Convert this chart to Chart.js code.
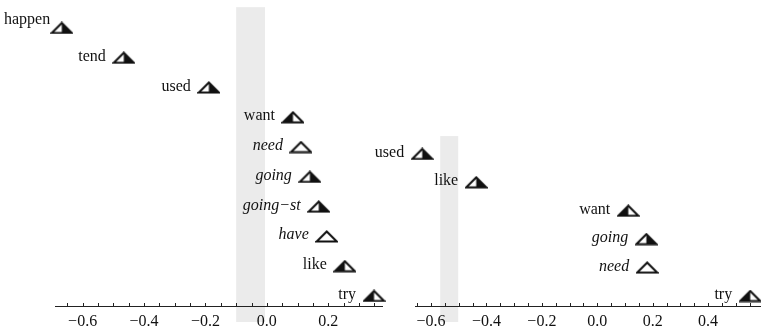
<!DOCTYPE html>
<html>
<head>
<meta charset="utf-8">
<script src="https://cdn.jsdelivr.net/npm/chart.js@4/dist/chart.umd.min.js"></script>
<style>
  html, body { margin: 0; padding: 0; background: #fff; }
  #wrap { position: relative; width: 761px; height: 335px; overflow: hidden; }
  canvas { position: absolute; top: 0; }
  #left { left: 0; }
  #right { left: 360px; }
</style>
</head>
<body>
<div id="wrap">
  <canvas id="left" width="395" height="335"></canvas>
  <canvas id="right" width="401" height="335"></canvas>
</div>
<script>
// left panel
const leftWords = ['happen', 'tend', 'used', 'want', 'need', 'going', 'going\u2212st', 'have', 'like', 'try'];
const leftValues = [-0.668, -0.466, -0.189, 0.085, 0.111, 0.140, 0.169, 0.195, 0.254, 0.349];
const leftRows = [10, 9, 8, 7, 6, 5, 4, 3, 2, 1];
const leftItalic = [false, false, false, false, true, true, true, true, false, false];
const leftBlackHalf = ['right', 'right', 'right', 'left', 'none', 'right', 'right', 'none', 'left', 'left'];
const leftBand = [-0.1, -0.006];
const leftTicks = [-0.6, -0.4, -0.2, 0.0, 0.2];

// right panel
const rightWords = ['used', 'like', 'want', 'going', 'need', 'try'];
const rightValues = [-0.632, -0.437, 0.112, 0.177, 0.180, 0.552];
const rightRows = [6, 5, 4, 3, 2, 1];
const rightItalic = [false, false, false, true, true, false];
const rightBlackHalf = ['right', 'right', 'left', 'right', 'none', 'left'];
const rightBand = [-0.567, -0.502];
const rightTicks = [-0.6, -0.4, -0.2, 0.0, 0.2, 0.4];

const FONT = '"Liberation Serif", "Times New Roman", serif';

// half filled triangle markers
function triangle(half) {
    const c = document.createElement('canvas');
    c.width = 23;
    c.height = 13;
    const g = c.getContext('2d');
    g.beginPath();
    g.moveTo(1.5, 11.5);
    g.lineTo(21.5, 11.5);
    g.lineTo(11.5, 1.5);
    g.closePath();
    g.fillStyle = '#fff';
    g.fill();
    g.fillStyle = '#111';
    if (half === 'left') {
        g.beginPath();
        g.moveTo(1.5, 11.5);
        g.lineTo(11.5, 1.5);
        g.lineTo(11.5, 11.5);
        g.closePath();
        g.fill();
    } else if (half === 'right') {
        g.beginPath();
        g.moveTo(11.5, 1.5);
        g.lineTo(21.5, 11.5);
        g.lineTo(11.5, 11.5);
        g.closePath();
        g.fill();
    }
    g.beginPath();
    g.moveTo(1.5, 11.5);
    g.lineTo(21.5, 11.5);
    g.lineTo(11.5, 1.5);
    g.closePath();
    g.strokeStyle = '#111';
    g.lineWidth = 2;
    g.stroke();
    return c;
}
const markers = {left: triangle('left'), right: triangle('right'), none: triangle('none')};

const bandPlugin = {
    id: 'band',
    beforeDraw(chart, args, opts) {
        const {ctx, scales: {x, y}} = chart;
        const x0 = x.getPixelForValue(opts.from);
        const x1 = x.getPixelForValue(opts.to);
        const top = y.getPixelForValue(opts.top);
        ctx.save();
        ctx.fillStyle = '#ebebeb';
        ctx.fillRect(x0, top, x1 - x0, chart.chartArea.bottom + 16 - top);
        ctx.restore();
    }
};

const tickPlugin = {
    id: 'upticks',
    afterDraw(chart) {
        const {ctx, scales: {x}} = chart;
        const b = chart.chartArea.bottom;
        ctx.save();
        ctx.strokeStyle = '#222';
        ctx.lineWidth = 1;
        x.ticks.forEach(t => {
            const px = Math.round(x.getPixelForValue(t.value)) + 0.5;
            ctx.beginPath();
            ctx.moveTo(px, b);
            ctx.lineTo(px, b - 3);
            ctx.stroke();
        });
        ctx.restore();
    }
};

const wordPlugin = {
    id: 'words',
    afterDatasetsDraw(chart, args, opts) {
        const ctx = chart.ctx;
        const meta = chart.getDatasetMeta(0);
        ctx.save();
        ctx.fillStyle = '#111';
        ctx.textAlign = 'left';
        ctx.textBaseline = 'alphabetic';
        meta.data.forEach((el, i) => {
            ctx.font = (opts.italic[i] ? 'italic ' : '') + '16px ' + FONT;
            const w = ctx.measureText(opts.words[i]).width;
            let left = el.x - 18 - w;
            let base = el.y + 3;
            if (left < 4) {
                // no room at the edge: tuck it up against the marker
                left = 4;
                base = el.y - 4;
            }
            ctx.fillText(opts.words[i], left, base);
        });
        ctx.restore();
    }
};

function tickLabel(majors) {
    return v => {
        const hit = majors.find(m => Math.abs(m - v) < 1e-6);
        if (hit === undefined) return '';
        return hit.toFixed(1).replace('-', '\u2212');
    };
}

function panel(id, o) {
    new Chart(document.getElementById(id), {
        type: 'scatter',
        data: {
            datasets: [{
                data: o.values.map((v, i) => ({x: v, y: o.rows[i]})),
                pointStyle: c => markers[o.half[c.dataIndex]],
                showLine: false,
                clip: false
            }]
        },
        options: {
            responsive: false,
            animation: false,
            devicePixelRatio: 1,
            layout: {autoPadding: false, padding: {left: o.padLeft, right: o.padRight, top: 0, bottom: 0}},
            plugins: {
                legend: {display: false},
                tooltip: {enabled: false},
                band: {from: o.band[0], to: o.band[1], top: o.bandTop},
                words: {words: o.words, italic: o.italic}
            },
            scales: {
                x: {
                    type: 'linear',
                    min: o.min,
                    max: o.max,
                    afterFit: s => { s.height = 29; },
                    grid: {display: true, drawOnChartArea: false, drawTicks: false},
                    border: {display: true, color: '#222', width: 1},
                    ticks: {
                        stepSize: 0.05,
                        includeBounds: false,
                        autoSkip: false,
                        maxRotation: 0,
                        padding: 6,
                        color: '#111',
                        font: {family: FONT, size: 16},
                        callback: tickLabel(o.ticks)
                    }
                },
                y: {display: false, min: o.ymin, max: o.ymax}
            }
        },
        plugins: [bandPlugin, tickPlugin, wordPlugin]
    });
}

panel('left', {
    values: leftValues, rows: leftRows, words: leftWords, italic: leftItalic, half: leftBlackHalf,
    band: leftBand, bandTop: 10.7, ticks: leftTicks,
    min: -0.69, max: 0.375, ymin: 0.664, ymax: 10.94, padLeft: 55, padRight: 13
});

panel('right', {
    values: rightValues, rows: rightRows, words: rightWords, italic: rightItalic, half: rightBlackHalf,
    band: rightBand, bandTop: 6.63, ticks: rightTicks,
    min: -0.658, max: 0.591, ymin: 0.648, ymax: 11.42, padLeft: 55, padRight: 0
});
</script>
</body>
</html>
